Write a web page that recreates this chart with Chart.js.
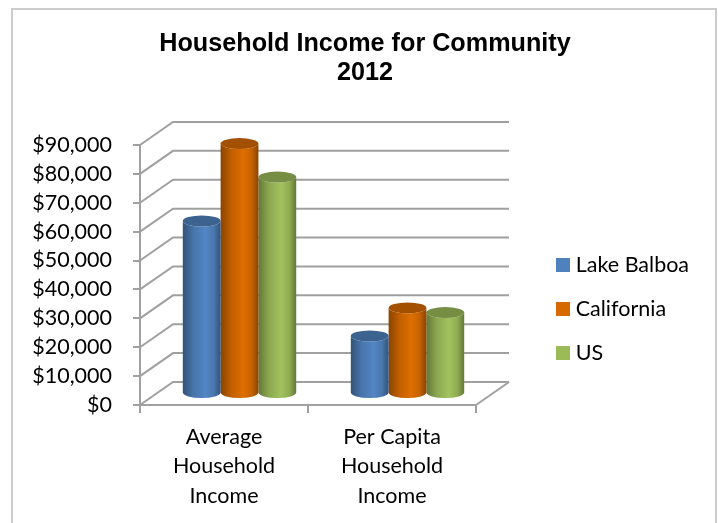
<!DOCTYPE html>
<html>
<head>
<meta charset="utf-8">
<title>Household Income for Community</title>
<script src="https://cdn.jsdelivr.net/npm/chart.js@4"></script>
<style>
    html, body { margin: 0; padding: 0; background: #fff; }
    #frame { position: absolute; left: 11px; top: 8px; width: 702px; height: 540px; border: 2px solid #cccccc; }
    #chartBox { position: absolute; left: 0; top: 0; width: 718px; height: 523px; overflow: hidden; }
</style>
</head>
<body>
<div id="chartBox">
    <div id="frame"></div>
    <canvas id="incomeChart" width="718" height="523" style="position:absolute;left:0;top:0"></canvas>
</div>
<script>
// Household income data
const categories = [["Average", "Household", "Income"], ["Per Capita", "Household", "Income"]];
const lakeBalboa = [59700, 19900];
const california = [86500, 29600];
const us = [74900, 28000];
const titleLines = ["Household Income for Community", "2012"];

const bodyFont = "Lato, Carlito, 'Open Sans', sans-serif";
const bodySize = 21.5;
const axisColor = "#a0a0a0";

// How far the back wall sits from the front of the box
const depthX = 33;
const depthY = -23;

// Darken or lighten an rgb triple
function shade(rgb, k) {
    return `rgb(${rgb.map(c => Math.min(255, Math.round(c * k))).join(",")})`;
}

// Cylinder for one bar, standing in the middle of the box depth
function drawCylinder(ctx, bar, rgb) {
    const halfW = bar.width / 2;
    const left = bar.x - halfW + depthX * 0.47;
    const right = bar.x + halfW + depthX * 0.47;
    const cx = (left + right) / 2;
    const top = bar.y + depthY / 2;
    const base = bar.base + depthY / 2;
    const ry = 5.5;

    const grad = ctx.createLinearGradient(left, 0, right, 0);
    grad.addColorStop(0, shade(rgb, 0.64));
    grad.addColorStop(0.28, shade(rgb, 0.9));
    grad.addColorStop(0.6, shade(rgb, 1.04));
    grad.addColorStop(0.82, shade(rgb, 0.92));
    grad.addColorStop(1, shade(rgb, 0.64));

    ctx.beginPath();
    ctx.moveTo(left, top);
    ctx.lineTo(left, base);
    ctx.ellipse(cx, base, halfW, ry, 0, Math.PI, 0, true);
    ctx.lineTo(right, top);
    ctx.ellipse(cx, top, halfW, ry, 0, 0, Math.PI, false);
    ctx.closePath();
    ctx.fillStyle = grad;
    ctx.fill();

    ctx.beginPath();
    ctx.ellipse(cx, top, halfW, ry, 0, 0, Math.PI * 2);
    ctx.fillStyle = shade(rgb, 0.76);
    ctx.fill();
}

// Legend swatch as a small canvas, so the text can sit closer to it
function makeSwatch(color) {
    const swatch = document.createElement("canvas");
    swatch.width = 14;
    swatch.height = 14;
    const c = swatch.getContext("2d");
    c.fillStyle = color;
    c.fillRect(0, 0, 14, 14);
    return swatch;
}

// Back wall, side wall and floor of the 3D box
const boxPlugin = {
    id: "box3d",
    beforeLayout(chart) {
        // legend keeps a fixed slot so the plot ends where it should
        const legend = chart.legend;
        const fit = Object.getPrototypeOf(legend).fit;
        legend.fit = function () {
            fit.call(this);
            this.width = 242;
        };
    },
    afterLayout(chart) {
        const legend = chart.legend;
        legend.left = 537.5;
        legend.right = 718;
        legend.top = 232;
        legend.bottom = 400;
        chart.titleBlock.left = 0;
        chart.titleBlock.right = 730;
    },
    beforeDatasetsDraw(chart) {
        const { ctx, scales: { x, y } } = chart;
        const left = x.left;
        const right = x.right;
        ctx.save();
        ctx.strokeStyle = axisColor;
        ctx.lineWidth = 2;
        y.ticks.forEach(t => {
            const py = y.getPixelForValue(t.value);
            ctx.beginPath();
            ctx.moveTo(left, py);
            ctx.lineTo(left + depthX, py + depthY);
            ctx.lineTo(right + depthX, py + depthY);
            ctx.stroke();
        });
        const floor = y.getPixelForValue(0);
        ctx.beginPath();
        ctx.moveTo(right, floor);
        ctx.lineTo(right + depthX, floor + depthY);
        ctx.stroke();
        ctx.restore();
    },
    beforeDatasetDraw(chart, args) {
        const meta = chart.getDatasetMeta(args.index);
        const rgb = chart.data.datasets[args.index].rgb;
        meta.data.forEach(bar => drawCylinder(chart.ctx, bar, rgb));
        return false;
    }
};

function makeDataset(label, data, rgb) {
    return {
        label: label,
        data: data,
        rgb: rgb,
        backgroundColor: `rgb(${rgb.join(",")})`,
        borderWidth: 0,
        categoryPercentage: 0.675,
        barPercentage: 1
    };
}

document.addEventListener("DOMContentLoaded", () => {
    const ctx = document.getElementById("incomeChart").getContext("2d");

    new Chart(ctx, {
        type: "bar",
        data: {
            labels: categories,
            datasets: [
                makeDataset("Lake Balboa", lakeBalboa, [79, 129, 189]),
                makeDataset("California", california, [214, 106, 0]),
                makeDataset("US", us, [155, 187, 89])
            ]
        },
        options: {
            responsive: false,
            animation: false,
            clip: false,
            plugins: {
                tooltip: { enabled: false },
                title: {
                    display: true,
                    text: titleLines,
                    color: "#000",
                    font: { family: "'Liberation Sans', Arial, sans-serif", size: 25.2, weight: "bold", lineHeight: 1.15 },
                    padding: { top: 30, bottom: 57 }
                },
                legend: {
                    position: "right",
                    align: "start",
                    labels: {
                        usePointStyle: true,
                        pointStyleWidth: 5,
                        boxHeight: 14,
                        padding: 22.5,
                        color: "#000",
                        font: { family: bodyFont, size: bodySize },
                        generateLabels(chart) {
                            return Chart.defaults.plugins.legend.labels.generateLabels(chart).map((item, i) => {
                                item.pointStyle = makeSwatch(chart.data.datasets[i].backgroundColor);
                                return item;
                            });
                        }
                    }
                }
            },
            scales: {
                x: {
                    afterFit(scale) { scale.height = 118; },
                    border: { color: axisColor, width: 2 },
                    grid: { drawOnChartArea: false, color: axisColor, lineWidth: 2, tickLength: 8 },
                    ticks: {
                        color: "#000",
                        padding: 9,
                        maxRotation: 0,
                        font: { family: bodyFont, size: bodySize, lineHeight: 1.37 }
                    }
                },
                y: {
                    min: 0,
                    max: 90000,
                    afterFit(scale) { scale.width = 140; },
                    border: { color: axisColor, width: 2 },
                    grid: { drawOnChartArea: false, color: axisColor, lineWidth: 2, tickLength: 7 },
                    ticks: {
                        stepSize: 10000,
                        color: "#000",
                        padding: 21,
                        font: { family: bodyFont, size: bodySize },
                        callback: v => "$" + v.toLocaleString("en-US")
                    }
                }
            }
        },
        plugins: [boxPlugin]
    });
});
</script>
</body>
</html>
